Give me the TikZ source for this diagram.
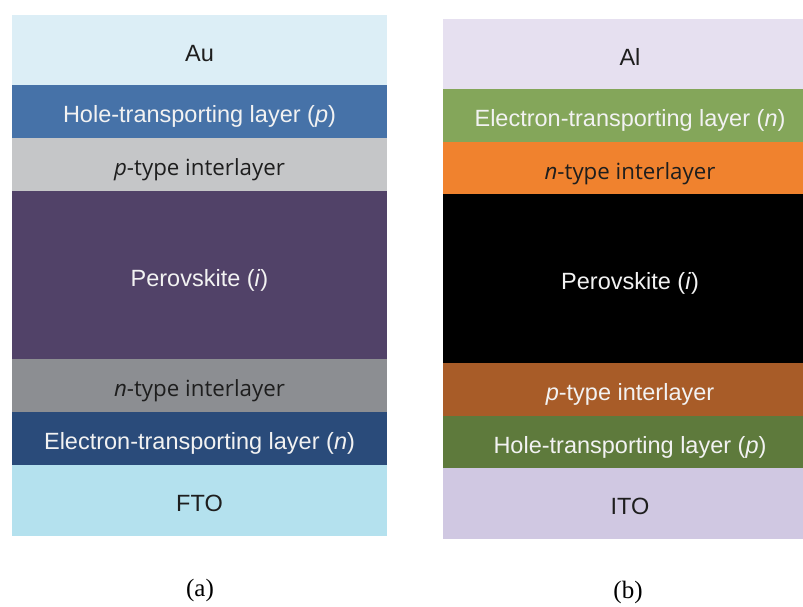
\documentclass[tikz,border=0pt]{standalone}
\usepackage{fontspec}
\setmainfont{Liberation Serif}
\setsansfont{Liberation Sans}
\newfontfamily\osans{Open Sans}
\definecolor{cAu}{HTML}{DCEEF6}
\definecolor{cHTLa}{HTML}{4672A8}
\definecolor{cPIa}{HTML}{C5C6C8}
\definecolor{cPeroA}{HTML}{514268}
\definecolor{cNIa}{HTML}{8C8E92}
\definecolor{cETLa}{HTML}{2A4B7A}
\definecolor{cFTO}{HTML}{B4E1EE}
\definecolor{cAl}{HTML}{E6E0F0}
\definecolor{cETLb}{HTML}{84A65A}
\definecolor{cNIb}{HTML}{F0822E}
\definecolor{cPIb}{HTML}{A85C28}
\definecolor{cHTLb}{HTML}{5E7A3C}
\definecolor{cITO}{HTML}{D0C8E2}
\definecolor{lighttext}{HTML}{F2F2F2}
\definecolor{darktext}{HTML}{1E1E1E}
\begin{document}
\begin{tikzpicture}[x=1pt,y=-1pt,
  layer/.style={rectangle, inner sep=0pt, draw=none, text height=22pt, text depth=0pt, font=\sffamily\fontsize{23.5}{26}\selectfont},
  ilayer/.style={layer, font=\osans\fontsize{22.3}{26}\selectfont},
  lw/.style={minimum width=375pt},
  rw/.style={minimum width=374pt},
  lt/.style={text=lighttext},
  dt/.style={text=darktext},
  caption/.style={font=\fontsize{25}{28}\selectfont, text=black}]
\useasboundingbox (0,0) rectangle (803,606);
\fill[white] (0,0) rectangle (803,606);
% (a)
\node[layer, lw, fill=cAu, dt, minimum height=70pt] (au) at (199.5,50) {Au};
\node[layer, lw, fill=cHTLa, lt, minimum height=53pt] (htla) at (199.5,111.5) {Hole-transporting layer (\textit{p})};
\node[ilayer, lw, fill=cPIa, dt, minimum height=53pt] (pia) at (199.5,164.5) {\textit{p}-type interlayer};
\node[layer, lw, fill=cPeroA, lt, minimum height=168pt] (peroa) at (199.5,275) {Perovskite (\textit{i})};
\node[ilayer, lw, fill=cNIa, dt, minimum height=53pt] (nia) at (199.5,385.5) {\textit{n}-type interlayer};
\node[layer, lw, fill=cETLa, lt, minimum height=53pt] (etla) at (199.5,438.5) {Electron-transporting layer (\textit{n})};
\node[layer, lw, fill=cFTO, dt, minimum height=71pt] (fto) at (199.5,500.5) {FTO};
\node[caption] (capa) at (200,590) {(a)};
% (b)
\node[layer, rw, fill=cAl, dt, minimum height=70pt] (al) at (630,54) {Al};
\node[layer, rw, fill=cETLb, lt, minimum height=53pt] (etlb) at (630,115.5) {Electron-transporting layer (\textit{n})};
\node[ilayer, rw, fill=cNIb, dt, minimum height=52pt] (nib) at (630,168) {\textit{n}-type interlayer};
\node[layer, rw, fill=black, lt, minimum height=169pt] (perob) at (630,278.5) {Perovskite (\textit{i})};
\node[layer, rw, fill=cPIb, text=lighttext, minimum height=53pt] (pib) at (630,389.5) {\textit{p}-type interlayer};
\node[layer, rw, fill=cHTLb, lt, minimum height=52pt] (htlb) at (630,442) {Hole-transporting layer (\textit{p})};
\node[layer, rw, fill=cITO, dt, minimum height=71pt] (ito) at (630,503.5) {ITO};
\node[caption] (capb) at (628,592) {(b)};
\end{tikzpicture}
\end{document}
